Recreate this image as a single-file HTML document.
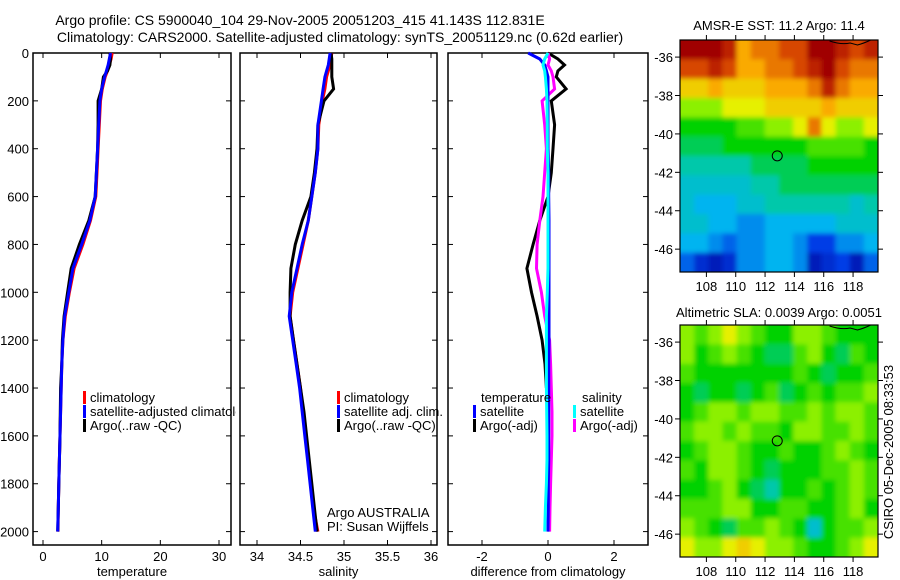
<!DOCTYPE html>
<html><head><meta charset="utf-8"><style>
body{margin:0;background:#fff}
svg{display:block;font-family:"Liberation Sans",sans-serif}
text{fill:#000}
</style></head><body>
<svg id="c" width="900" height="580" viewBox="0 0 900 580">
<defs>
<filter id="blur" x="-5%" y="-5%" width="110%" height="110%"><feGaussianBlur stdDeviation="2.5"/></filter>
<clipPath id="clipMap1"><rect x="680" y="40" width="198" height="232"/></clipPath>
<clipPath id="clipMap2"><rect x="680" y="325" width="198" height="232"/></clipPath>
<clipPath id="clipP1"><rect x="33" y="53" width="203" height="492"/></clipPath>
</defs>
<g id="titles" font-size="14" text-anchor="middle">
<text x="300" y="25">Argo profile: CS 5900040_104 29-Nov-2005 20051203_415 41.143S 112.831E</text>
<text x="340" y="42">Climatology: CARS2000. Satellite-adjusted climatology: synTS_20051129.nc (0.62d earlier)</text>
<text x="779" y="30" font-size="13">AMSR-E SST: 11.2 Argo: 11.4</text>
<text x="779" y="317" font-size="13">Altimetric SLA: 0.0039 Argo: 0.0051</text>
</g>
<text transform="translate(893,452) rotate(-90)" font-size="13" text-anchor="middle">CSIRO 05-Dec-2005 08:33:53</text>
<g id="plots"></g>
</svg>
<script>
// ---- profile data ----
const depths = [0,25,50,75,100,150,200,300,400,500,600,700,800,900,1000,1100,1200,1300,1400,1500,1600,1700,1800,1900,2000];
const tempClim = [11.8,11.6,11.3,11.0,10.6,10.1,9.8,9.6,9.4,9.2,9.0,8.1,6.8,5.3,4.5,3.8,3.4,3.2,3.1,3.0,2.9,2.8,2.7,2.6,2.55];
const tempSat  = [11.5,11.3,11.1,10.8,10.5,10.0,9.7,9.5,9.3,9.1,8.9,8.0,6.6,5.1,4.4,3.7,3.4,3.2,3.1,3.0,2.9,2.8,2.7,2.6,2.5];
const tempArgo = [11.4,11.5,11.4,11.0,10.3,10.0,9.4,9.4,9.3,9.1,8.9,7.8,6.2,4.8,4.2,3.6,3.3,3.2,3.0,2.95,2.9,2.8,2.7,2.6,2.5];
const salClim  = [34.86,34.85,34.84,34.82,34.80,34.78,34.75,34.71,34.70,34.67,34.63,34.59,34.53,34.47,34.41,34.38,34.42,34.46,34.50,34.53,34.56,34.59,34.62,34.65,34.70];
const salSat   = [34.84,34.83,34.82,34.80,34.78,34.76,34.74,34.70,34.70,34.67,34.63,34.59,34.52,34.46,34.40,34.37,34.41,34.45,34.49,34.52,34.55,34.58,34.61,34.64,34.67];
const salArgo  = [34.85,34.86,34.86,34.86,34.86,34.88,34.77,34.70,34.69,34.66,34.62,34.52,34.44,34.39,34.38,34.38,34.42,34.46,34.50,34.54,34.57,34.60,34.63,34.66,34.69];
const diffTempSat  = [-0.6,-0.25,-0.1,-0.05,0,0,0,0,0,0.02,0.02,0.03,0.03,0.03,0.03,0.03,0.03,0.02,0.02,0.02,0.02,0.02,0.01,0.01,0.0];
const diffTempArgo = [0,0.3,0.5,0.3,0.25,0.55,0.1,0.2,0.15,0.1,0,-0.25,-0.45,-0.64,-0.5,-0.33,-0.18,-0.09,-0.05,null,null,null,null,null,null];
const diffSalSat   = [0,-0.1,-0.15,-0.1,-0.08,-0.05,-0.03,-0.02,-0.02,0,0,0,0,0,-0.02,-0.05,-0.05,-0.05,-0.05,-0.04,-0.03,-0.03,-0.05,-0.08,-0.1];
const diffSalArgo  = [0,0.05,0,0.1,0.15,0.2,-0.18,-0.1,-0.05,-0.1,-0.15,-0.25,-0.33,-0.35,-0.2,-0.1,0.05,0.08,0.1,0.12,0.12,0.1,0.08,0.06,0.05];
const depthTicks = [0,200,400,600,800,1000,1200,1400,1600,1800,2000];
const tempTicks = [0,10,20,30];
const salTicks = [34,34.5,35,35.5,36];
const diffTicks = [-2,0,2];
// ---- map data (values on colour scale 0..10) ----
const lonTicks = [108,110,112,114,116,118];
const latTicks = [-36,-38,-40,-42,-44,-46];
const sstGrid = [
[10,10,10,9.5,8,8.5,8.5,9,9,10,10,9.5,9,9.5],
[9,9,9.5,9,8,8,8.5,8.5,9,9.5,10,9,8.5,8.5],
[7.5,7.5,8,7.5,7.5,7.5,8,8,8,8.5,9.5,8.5,8,8],
[6.5,6.5,6.5,7,7,7,7.5,7.5,7.5,7.5,8,7.5,7.5,7.5],
[5.5,5.5,5.5,5.5,6,6,6.5,6.5,7,8.5,7,6.5,6.5,7],
[5,5,5,5.5,5.5,5.5,5.5,5.5,5.5,6,6,6,6,5.5],
[4.5,4.5,4.5,4.5,4.5,5,5,5,5,5.5,5.5,5.5,5.5,5.5],
[4,4,4,4,4,4.5,4.5,5,5,5,5,5,5,5],
[4,3.5,3.5,3.5,4,4,4.5,4.5,4.5,4.5,4.5,4.5,4,4.5],
[4,4,3.5,3.5,3,3,3.5,3.5,3.5,3.5,3.5,4,4,4],
[3.5,3.5,3,2.5,3,3,3.5,3.5,3,2,2,3,3,3.5],
[2.5,1.5,1,1.5,3,3,3.5,3.5,3,1,1.5,2,1,2.5]];
const slaGrid = [
[6.5,6,6.5,7,6.5,6,5.5,5.5,6.5,6.5,6,5.5,5.5,5.5],
[6.5,5.5,6,6.5,6,5.5,5,5,6,6.5,5.5,5,6,5.5],
[6,5.5,5.5,5.5,5.5,5.5,5.5,5.5,6,5.5,5,5.5,5.5,6],
[5.5,5,5.5,5.5,5,5.5,6,5,5.5,6,5.5,6,6,6.5],
[5.5,6,6.5,6.5,6,6.5,6.5,6,6,6.5,6,6.5,6.5,6],
[6,6.5,6.5,6,6.5,6,6,5.5,6.5,6.5,6,6,6.5,6],
[5.5,6,6.5,6.5,6,5.5,5.5,6,5.5,5.5,6,6.5,6,5.5],
[6,5.5,6.5,6.5,6,5.5,5,5.5,5.5,5.5,6,6,6.5,6],
[5.5,5.5,6,6.5,5.5,5,4.5,5.5,5.5,6,5.5,6,6.5,6],
[6,6,6,6.5,6.5,5.5,5.5,6,6,5.5,5.5,6,6.5,5.5],
[6.5,6,5.5,5,6,6,6.5,6,5.5,4,5.5,6,6,6.5],
[7,6.5,6.5,7,7.5,7,6.5,6.5,6,5.5,5.5,6,6.5,7]];
const floatLon = 112.831, floatLat = -41.143;

const NS='http://www.w3.org/2000/svg';
const root=document.getElementById('plots');
function mk(tag,attrs,parent){const e=document.createElementNS(NS,tag);for(const k in attrs)e.setAttribute(k,attrs[k]);(parent||root).appendChild(e);return e;}
function lin(d0,d1,r0,r1){return v=>r0+(v-d0)*(r1-r0)/(d1-d0);}
const Y=lin(0,2000,53,531.6);
const stops=[[0,[0,0,140]],[2,[0,60,230]],[3.5,[0,180,240]],[4.5,[0,200,170]],[5.5,[0,210,0]],[6.5,[140,240,0]],[7,[230,240,0]],[8,[250,170,0]],[9,[215,70,0]],[10,[160,0,0]]];
function cmap(v){for(let i=1;i<stops.length;i++){if(v<=stops[i][0]){const a=stops[i-1],b=stops[i],t=(v-a[0])/(b[0]-a[0]);return 'rgb('+a[1].map((c,j)=>Math.round(c+(b[1][j]-c)*t)).join(',')+')';}}return 'rgb(160,0,0)';}

function panel(name,x0,x1,X,ticks,label,showDepth){
  const g=mk('g',{});
  
  
  const r=mk('rect',{x:x0,y:53,width:x1-x0,height:492,fill:'none',stroke:'#000','stroke-width':1.5},g);
  
  
  depthTicks.forEach(d=>{
    mk('line',{x1:x0,x2:x0+5,y1:Y(d),y2:Y(d),stroke:'#000'},g);
    mk('line',{x1:x1-5,x2:x1,y1:Y(d),y2:Y(d),stroke:'#000'},g);
    if(showDepth){const t=mk('text',{x:x0-4,y:Y(d)+5,'font-size':13,'text-anchor':'end'},g);t.textContent=d;
      
      }
  });
  ticks.forEach(v=>{
    mk('line',{x1:X(v),x2:X(v),y1:545,y2:540,stroke:'#000'},g);
    mk('line',{x1:X(v),x2:X(v),y1:53,y2:58,stroke:'#000'},g);
    const t=mk('text',{x:X(v),y:561,'font-size':13,'text-anchor':'middle'},g);t.textContent=v;
    
    
  });
  const l=mk('text',{x:(x0+x1)/2,y:576,'font-size':13,'text-anchor':'middle'},g);l.textContent=label;
  
  
  return g;
}
function series(g,X,vals,color,name){
  let pts=[];
  vals.forEach((v,i)=>{if(v!==null)pts.push(X(v).toFixed(1)+','+Y(depths[i]).toFixed(1));});
  const p=mk('polyline',{points:pts.join(' '),fill:'none',stroke:color,'stroke-width':3},g);
  
  
}
function legend(g,x,y,color,txt,name){
  const b=mk('rect',{x:x,y:y-11,width:3,height:13,fill:color},g);
  
  
  const t=mk('text',{x:x+7,y:y,'font-size':13},g);t.textContent=txt;
  
  
}
// temperature panel
const XT=lin(0,30,43,219);
const gT=panel('temperature',33,231,XT,tempTicks,'temperature',true);
series(gT,XT,tempClim,'#f00','temp-climatology-line');
series(gT,XT,tempArgo,'#000','temp-argo-line');
series(gT,XT,tempSat,'#00f','temp-satellite-line');
const gTL=mk('g',{'clip-path':'url(#clipP1)'},gT);
legend(gTL,83,402,'#f00','climatology','temp-legend-climatology');
legend(gTL,83,416,'#00f','satellite-adjusted climatology','temp-legend-satellite');
legend(gTL,83,430,'#000','Argo(..raw -QC)','temp-legend-argo');
// salinity panel
const XS=lin(34,36,257,431);
const gS=panel('salinity',240,437,XS,salTicks,'salinity',false);
series(gS,XS,salClim,'#f00','sal-climatology-line');
series(gS,XS,salArgo,'#000','sal-argo-line');
series(gS,XS,salSat,'#00f','sal-satellite-line');
legend(gS,337,402,'#f00','climatology','sal-legend-climatology');
legend(gS,337,416,'#00f','satellite adj. clim.','sal-legend-satellite');
legend(gS,337,430,'#000','Argo(..raw -QC)','sal-legend-argo');
[['Argo AUSTRALIA',517],['PI: Susan Wijffels',531]].forEach(a=>{const t=mk('text',{x:327,y:a[1],'font-size':13},gS);t.textContent=a[0];
  
  });
// difference panel
const XD=lin(-2,2,482,614);
const gD=panel('difference',448,648,XD,diffTicks,'difference from climatology',false);
series(gD,XD,diffTempArgo,'#000','diff-temp-argo-line');
series(gD,XD,diffSalArgo,'#f0f','diff-sal-argo-line');
series(gD,XD,diffTempSat,'#00f','diff-temp-satellite-line');
series(gD,XD,diffSalSat,'#0ff','diff-sal-satellite-line');
{const t=mk('text',{x:481,y:402,'font-size':13},gD);t.textContent='temperature';}
{const t=mk('text',{x:582,y:402,'font-size':13},gD);t.textContent='salinity';}
legend(gD,473,416,'#00f','satellite','diff-legend-temp-satellite');
legend(gD,473,430,'#000','Argo(-adj)','diff-legend-temp-argo');
legend(gD,573,416,'#0ff','satellite','diff-legend-sal-satellite');
legend(gD,573,430,'#f0f','Argo(-adj)','diff-legend-sal-argo');

// maps
function mapPanel(name,grid,top,clip){
  const x0=680,x1=878,y0=top,y1=top+232;
  const LX=lin(106.2,119.7,x0,x1), LY=lin(-35.11,-47.19,y0,y1);
  const g=mk('g',{});
  
  
  const cg=mk('g',{'clip-path':'url(#'+clip+')'},g);
  const bg=mk('g',{filter:'url(#blur)'},cg);
  const rows=grid.length, cols=grid[0].length, cw=(x1-x0)/cols, ch=(y1-y0)/rows;
  grid.forEach((row,i)=>row.forEach((v,j)=>{
    const ext=(j===0?-8:0), exr=(j===cols-1?8:0), ety=(i===0?-8:0), eby=(i===rows-1?8:0);
    const c=mk('rect',{x:(x0+j*cw+ext).toFixed(2),y:(y0+i*ch+ety).toFixed(2),width:(cw+0.6-ext+exr).toFixed(2),height:(ch+0.6-ety+eby).toFixed(2),fill:cmap(v)},bg);
    
    
  }));
  const coast=mk('path',{d:`M${LX(116.4)},${y0+1} Q${LX(117.2)},${y0+5} ${LX(117.8)},${y0+3} L${LX(118.3)},${y0+5} Q${LX(118.8)},${y0+3} ${LX(119.2)},${y0}`,fill:'none',stroke:'#000','stroke-width':1},g);
  
  
  const fr=mk('rect',{x:x0,y:y0,width:x1-x0,height:y1-y0,fill:'none',stroke:'#000','stroke-width':1.2},g);
  
  
  lonTicks.forEach(v=>{
    mk('line',{x1:LX(v),x2:LX(v),y1:y1,y2:y1+5,stroke:'#000'},g);
    mk('line',{x1:LX(v),x2:LX(v),y1:y0,y2:y0-5,stroke:'#000'},g);
    const t=mk('text',{x:LX(v),y:y1+19,'font-size':13,'text-anchor':'middle'},g);t.textContent=v;
    
    
  });
  latTicks.forEach(v=>{
    mk('line',{x1:x0,x2:x0-5,y1:LY(v),y2:LY(v),stroke:'#000'},g);
    mk('line',{x1:x1,x2:x1+5,y1:LY(v),y2:LY(v),stroke:'#000'},g);
    const t=mk('text',{x:x0-7,y:LY(v)+5,'font-size':13,'text-anchor':'end'},g);t.textContent=v;
    
    
  });
  const m=mk('circle',{cx:LX(floatLon),cy:LY(floatLat),r:5,fill:'none',stroke:'#000','stroke-width':1},g);
  
  
}
mapPanel('sst-map',sstGrid,40,'clipMap1');
mapPanel('sla-map',slaGrid,325,'clipMap2');
</script>
</body></html>
